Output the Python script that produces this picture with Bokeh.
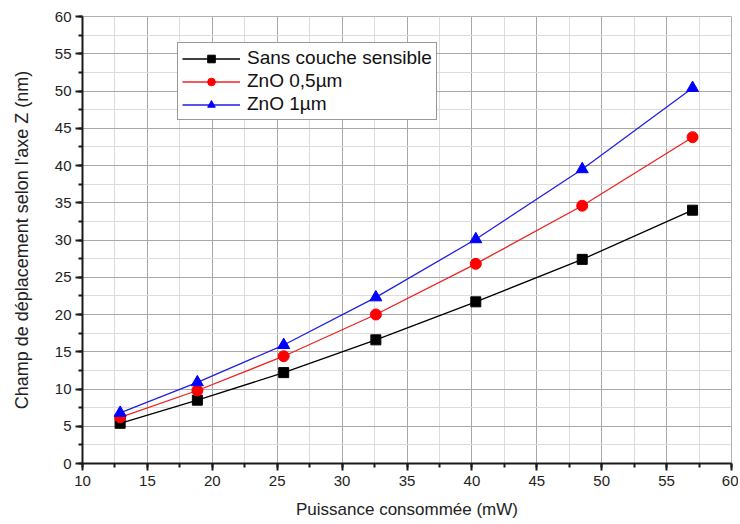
from bokeh.plotting import figure
from bokeh.models import Legend, LegendItem, Range1d, SingleIntervalTicker
from bokeh.embed import file_html
from bokeh.resources import INLINE

x_power = [12.9, 18.85, 25.5, 32.6, 40.3, 48.5, 57.0]
sans_couche = [5.4, 8.5, 12.2, 16.6, 21.7, 27.4, 34.0]
zno_05 = [6.2, 9.8, 14.4, 20.0, 26.8, 34.6, 43.8]
zno_1 = [6.8, 10.9, 15.9, 22.3, 30.1, 39.5, 50.4]

series_names = ["Sans couche sensible", "ZnO 0,5µm", "ZnO 1µm"]
x_ticks = list(range(10, 61, 5))
y_ticks = list(range(0, 61, 5))

FONT = "Liberation Sans"

p = figure(frame_width=649, frame_height=447, output_backend="svg", toolbar_location=None,
           x_range=Range1d(10, 60), y_range=Range1d(0, 60),
           min_border_left=82, min_border_right=7, min_border_top=16, min_border_bottom=56)
p.outline_line_color = "#b0b0b0"
p.background_fill_color = "white"
p.border_fill_color = "white"

for ax, ticks in ((p.xaxis, x_ticks), (p.yaxis, y_ticks)):
    ax.ticker = SingleIntervalTicker(interval=5, num_minor_ticks=2)
    ax.axis_line_width = 2
    ax.axis_line_color = "#1a1a1a"
    ax.major_tick_line_width = 2
    ax.major_tick_line_color = "#1a1a1a"
    ax.minor_tick_line_width = 2
    ax.minor_tick_line_color = "#1a1a1a"
    ax.major_tick_out = 7
    ax.major_tick_in = 0
    ax.minor_tick_out = 4
    ax.minor_tick_in = 0
    ax.major_label_text_font = FONT
    ax.major_label_text_font_size = "15px"
    ax.major_label_text_color = "#222222"
    ax.axis_label_text_font = FONT
    ax.axis_label_text_font_style = "normal"
    ax.axis_label_text_color = "#222222"

p.xaxis.axis_label = "Puissance consommée (mW)"
p.yaxis.axis_label = "Champ de déplacement selon l'axe Z (nm)"
p.xaxis.axis_label_text_font_size = "17px"
p.yaxis.axis_label_text_font_size = "18px"
p.xaxis.major_label_standoff = 5
p.yaxis.major_label_standoff = 4
p.xaxis.axis_label_standoff = 11
p.yaxis.axis_label_standoff = 20

for g in (p.xgrid, p.ygrid):
    g.grid_line_color = "#a8a8a8"
    g.grid_line_width = 1
    g.minor_grid_line_color = "#dcdcdc"
    g.minor_grid_line_width = 1

r1l = p.line(x_power, sans_couche, line_color="black", line_width=1.3)
r1m = p.scatter(x_power, sans_couche, marker="square", size=10, fill_color="black", line_color="black")
r2l = p.line(x_power, zno_05, line_color="#f02020", line_width=1.3)
r2m = p.scatter(x_power, zno_05, marker="circle", size=11, fill_color="red", line_color="red")
r3l = p.line(x_power, zno_1, line_color="#2020e0", line_width=1.3)
r3m = p.scatter(x_power, zno_1, marker="triangle", size=12, fill_color="blue", line_color="blue")

legend = Legend(items=[
    LegendItem(label=series_names[0], renderers=[r1l, r1m]),
    LegendItem(label=series_names[1], renderers=[r2l, r2m]),
    LegendItem(label=series_names[2], renderers=[r3l, r3m]),
], location=(95, 343))
legend.margin = 0
legend.padding = 4
legend.spacing = 1
legend.glyph_width = 58
legend.glyph_height = 19
legend.label_height = 19
legend.label_standoff = 7
legend.label_text_font = FONT
legend.label_text_font_size = "19px"
legend.label_text_color = "#111111"
legend.border_line_color = "#333333"
legend.border_line_width = 1
legend.background_fill_color = "white"
legend.background_fill_alpha = 1
p.add_layout(legend, "center")

open("out.html", "w").write(file_html(p, INLINE))
